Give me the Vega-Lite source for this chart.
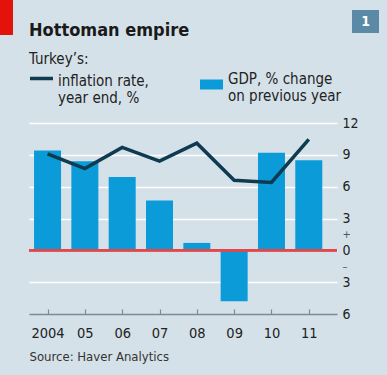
{
  "$schema": "https://vega.github.io/schema/vega-lite/v6.json",
  "width": 308,
  "height": 191,
  "autosize": {"type": "none"},
  "padding": {"left": 29, "top": 123, "right": 50, "bottom": 61},
  "background": "#d5e1e9",
  "config": {
    "view": {"stroke": null},
    "font": "DejaVu Sans Condensed",
    "axis": {"labelOverlap": false}
  },
  "title": {
    "text": "Hottoman empire",
    "subtitle": "Turkey’s:",
    "anchor": "start",
    "frame": "group",
    "font": "DejaVu Sans Condensed",
    "fontSize": 18,
    "fontWeight": "bold",
    "color": "#1a1a1a",
    "subtitleFont": "DejaVu Sans Condensed",
    "subtitleFontSize": 15,
    "subtitleColor": "#222222",
    "subtitlePadding": 12,
    "offset": -67
  },
  "data": {
    "values": [
      {"year": 2004, "gdp": 9.4, "inflation": 9.1},
      {"year": 2005, "gdp": 8.4, "inflation": 7.7},
      {"year": 2006, "gdp": 6.9, "inflation": 9.7},
      {"year": 2007, "gdp": 4.7, "inflation": 8.4},
      {"year": 2008, "gdp": 0.7, "inflation": 10.1},
      {"year": 2009, "gdp": -4.8, "inflation": 6.6},
      {"year": 2010, "gdp": 9.2, "inflation": 6.4},
      {"year": 2011, "gdp": 8.5, "inflation": 10.45}
    ]
  },
  "layer": [
    {
      "mark": {"type": "bar", "size": 27},
      "encoding": {
        "x": {
          "field": "year",
          "type": "quantitative",
          "scale": {"domain": [2003.637, 2011.622], "nice": false, "zero": false},
          "axis": {
            "values": [2004, 2005, 2006, 2007, 2008, 2009, 2010, 2011],
            "tickCount": 20,
            "labelExpr": "datum.value == 2004 ? '2004' : substring(toString(datum.value), 2)",
            "grid": false,
            "domain": true,
            "domainColor": "#7d8b94",
            "domainWidth": 1.5,
            "ticks": true,
            "tickColor": "#7d8b94",
            "tickWidth": 1.2,
            "tickSize": -5,
            "labelPadding": 17,
            "labelFontSize": 14.5,
            "labelColor": "#222222",
            "labelFlush": false,
            "labelOverlap": false,
            "title": "Source: Haver Analytics",
            "titleAnchor": "start",
            "titleAlign": "left",
            "titleFontSize": 13,
            "titleFontWeight": "normal",
            "titleColor": "#333333",
            "titlePadding": 11
          }
        },
        "y": {
          "field": "gdp",
          "type": "quantitative",
          "scale": {"domain": [-6, 12], "nice": false},
          "axis": {
            "orient": "right",
            "values": [-6, -3, -1.5, 0, 1.5, 3, 6, 9, 12],
            "tickCount": 20,
            "labelExpr": "datum.value == 1.5 ? '+' : datum.value == -1.5 ? '–' : format(abs(datum.value), 'd')",
            "labelOverlap": false,
            "labelSeparation": -8,
            "labelFlush": false,
            "domain": false,
            "ticks": false,
            "tickSize": 0,
            "labelPadding": 5,
            "labelFontSize": {"condition": {"test": "abs(datum.value) == 1.5", "value": 11}, "value": 14},
            "labelColor": {"condition": {"test": "abs(datum.value) == 1.5", "value": "#555555"}, "value": "#222222"},
            "grid": true,
            "gridColor": "#ffffff",
            "gridWidth": 1.6,
            "gridOpacity": {"condition": {"test": "abs(datum.value) == 1.5 || datum.value == -6", "value": 0}, "value": 1},
            "title": null
          }
        },
        "fill": {
          "datum": "GDP",
          "scale": {"range": ["#0a9bd8"]},
          "legend": {
            "title": null,
            "orient": "none",
            "legendX": 172.5,
            "legendY": -61,
            "padding": 0,
            "symbolType": "M-1.15,0.75H1.15V1.75H-1.15Z",
            "symbolSize": 400,
            "symbolStrokeWidth": 0,
            "labelOffset": 6.5,
            "labelFontSize": 15,
            "labelColor": "#222222",
            "labelBaseline": "top",
            "labelExpr": "['GDP, % change', 'on previous year']",
            "encode": {"labels": {"lineHeight": {"value": 20}}}
          }
        }
      }
    },
    {
      "mark": {"type": "rule", "color": "#e2474c", "strokeWidth": 2},
      "encoding": {"y": {"datum": 0}}
    },
    {
      "mark": {"type": "line", "strokeWidth": 3.5},
      "encoding": {
        "x": {"field": "year", "type": "quantitative"},
        "y": {"field": "inflation", "type": "quantitative"},
        "stroke": {
          "datum": "Inflation",
          "scale": {"range": ["#0f3b51"]},
          "legend": {
            "title": null,
            "orient": "none",
            "legendX": 0.5,
            "legendY": -61,
            "padding": 0,
            "symbolType": "M-1.15,0.45H1.15",
            "symbolSize": 400,
            "symbolStrokeWidth": 3.5,
            "labelOffset": 4.5,
            "labelFontSize": 15,
            "labelColor": "#222222",
            "labelBaseline": "top",
            "labelExpr": "['inflation rate,', 'year end, %']",
            "encode": {"labels": {"lineHeight": {"value": 20}}}
          }
        }
      }
    },
    {
      "mark": {"type": "point", "filled": true, "opacity": 0, "color": "#5a8aa5"},
      "encoding": {
        "x": {"field": "year", "type": "quantitative"},
        "y": {"field": "gdp", "type": "quantitative"},
        "shape": {
          "datum": "1",
          "scale": {"range": ["M-1,-0.852H1V0.852H-1Z"]},
          "legend": {
            "title": null,
            "orient": "none",
            "legendX": 323,
            "legendY": -115,
            "padding": 0,
            "symbolSize": 729,
            "symbolOpacity": 1,
            "symbolStrokeWidth": 0,
            "symbolFillColor": "#5a8aa5",
            "labelOffset": -13.5,
            "labelAlign": "center",
            "labelBaseline": "middle",
            "labelFontSize": 14,
            "labelFontWeight": "bold",
            "labelColor": "#ffffff"
          }
        }
      }
    },
    {
      "mark": {"type": "point", "filled": true, "opacity": 0, "color": "#e3120b"},
      "encoding": {
        "x": {"field": "year", "type": "quantitative"},
        "y": {"field": "gdp", "type": "quantitative"},
        "strokeDash": {
          "datum": "r",
          "legend": {
            "title": null,
            "orient": "none",
            "legendX": -29,
            "legendY": -123,
            "padding": 0,
            "symbolType": "M-1,-1H-0.257V1H-1Z",
            "symbolSize": 1225,
            "symbolOpacity": 1,
            "symbolStrokeWidth": 0,
            "symbolFillColor": "#e3120b",
            "labelExpr": "''"
          }
        }
      }
    }
  ]
}
